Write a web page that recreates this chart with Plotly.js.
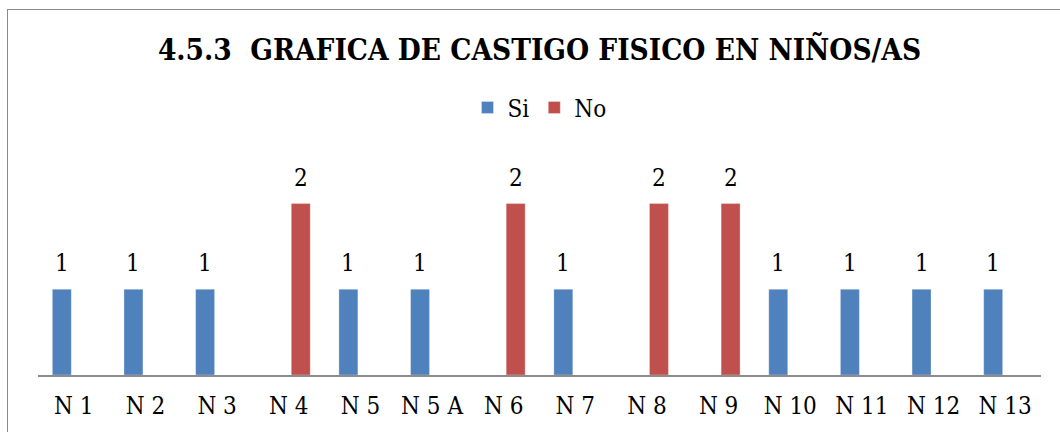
<!DOCTYPE html>
<html>
<head>
<meta charset="utf-8">
<script src="https://cdn.plot.ly/plotly-3.0.1.min.js"></script>
<style>
  html, body { margin: 0; padding: 0; background: #fff; overflow: hidden; }
  #wrap { position: relative; width: 1060px; height: 432px; }
  #chart { width: 1060px; height: 432px; }
  #frame { position: absolute; left: 7px; top: 9px; width: 1100px; height: 500px;
           border: 1.5px solid #8a8a8a; pointer-events: none; }
</style>
</head>
<body>
<div id="wrap">
  <div id="chart"></div>
  <div id="frame"></div>
</div>
<script>
const categories = ['N 1','N 2','N 3','N 4','N 5','N 5 A','N 6','N 7','N 8','N 9','N 10','N 11','N 12','N 13'];
const siValues = [1, 1, 1, null, 1, 1, null, 1, null, null, 1, 1, 1, 1];
const noValues = [null, null, null, 2, null, null, 2, null, 2, 2, null, null, null, null];
const seriesNames = ['Si', 'No'];
const titleText = '4.5.3  GRAFICA DE CASTIGO FISICO EN NIÑOS/AS';

const FONT = 'DejaVu Serif Condensed, DejaVu Serif, serif';
const colors = ['#4F81BD', '#C0504D'];

const traces = [siValues, noValues].map((vals, i) => ({
  type: 'bar',
  name: seriesNames[i],
  x: categories,
  y: vals,
  marker: { color: colors[i], line: { color: 'rgba(255,255,255,0.6)', width: 0.5 } },
  hoverinfo: 'x+y+name'
}));

const annotations = [];
[siValues, noValues].forEach((vals, i) => {
  vals.forEach((v, k) => {
    if (v === null || v === undefined) return;
    annotations.push({
      x: categories[k], y: v, xref: 'x', yref: 'y',
      text: String(v), showarrow: false,
      xanchor: 'center', yanchor: 'bottom',
      xshift: i === 0 ? -12 : 12, yshift: 10,
      font: { family: FONT, size: 24, color: '#000' }
    });
  });
});

const layout = {
  width: 1060, height: 432,
  margin: { l: 38, r: 19, t: 150, b: 57 },
  paper_bgcolor: '#fff', plot_bgcolor: '#fff',
  font: { family: FONT, color: '#000' },
  barmode: 'group',
  bargap: 0.33,
  bargroupgap: 0.21,
  title: {
    text: '<b>' + titleText + '</b>',
    font: { family: FONT, size: 29.5, color: '#000' },
    x: 0.5, xref: 'paper', xanchor: 'center',
    y: 1 - 50 / 432, yref: 'container', yanchor: 'middle'
  },
  showlegend: true,
  legend: {
    orientation: 'h', x: 0.5, xanchor: 'center', y: 1.187, yanchor: 'middle',
    font: { family: FONT, size: 24, color: '#000' },
    itemwidth: 30, tracegroupgap: 0
  },
  xaxis: {
    type: 'category',
    showline: true, linecolor: '#8c8c8c', linewidth: 1.5,
    ticks: '', showgrid: false, zeroline: false,
    tickfont: { family: FONT, size: 24, color: '#000' },
    ticklabelstandoff: 9
  },
  yaxis: {
    range: [0, 2.625], visible: false, showgrid: false, zeroline: false
  },
  annotations: annotations
};

Plotly.newPlot('chart', traces, layout, { displayModeBar: false, staticPlot: true });
</script>
</body>
</html>
